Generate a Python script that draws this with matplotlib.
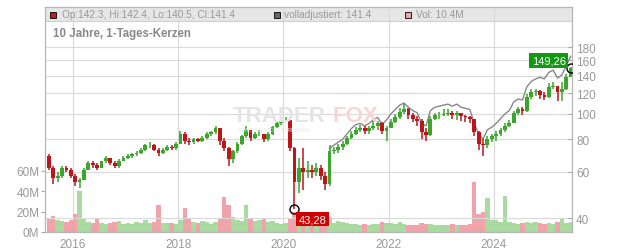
import matplotlib
matplotlib.use("Agg")
import matplotlib.pyplot as plt
from matplotlib.patches import Rectangle
import numpy as np
import pandas as pd

plt.rcParams['font.family'] = ['Liberation Sans', 'DejaVu Sans']

# monthly candles, Jul 2015 .. Jun 2025
first_open = 69
close = [62, 57, 58, 62, 61, 58,
         55, 56, 61, 65, 64, 62, 66, 68, 65, 63, 66, 68,
         69, 70, 71, 73, 76, 76, 73, 71, 73, 75, 74, 77,
         84, 79, 78, 80, 79, 81, 84, 85, 88, 79, 74, 67,
         72, 77, 82, 87, 81, 84, 84, 80, 84, 89, 92, 94,
         95, 74, 55, 62, 60, 61, 60, 62, 58, 54, 72, 73,
         75, 77, 81, 84, 87, 88, 86, 88, 90, 92, 86, 88,
         93, 97, 102, 104, 99, 96, 94, 85, 83, 96, 99, 99,
         100, 101, 99, 101, 98, 97, 96, 85, 77, 76, 80, 82,
         84, 87, 90, 92, 101, 104, 103, 116, 121, 122, 118, 116,
         127, 128, 121, 125, 138, 149.26]
high = [70, 63, 60, 63, 63, 62,
        59, 57, 62, 66, 66, 65, 66, 69, 68, 66, 67, 69,
        70, 71, 72, 74, 77, 78, 77, 74, 74, 76, 76, 78,
        86, 85, 81, 81, 81, 82, 85, 86, 90, 88, 81, 75,
        73, 78, 83, 90, 87, 85, 87, 84, 85, 90, 93, 95,
        97, 97, 75, 68, 74, 66, 64, 65, 64, 60, 76, 75,
        77, 79, 82, 86, 89, 91, 90, 90, 94, 94, 93, 90,
        96, 100, 105, 109, 105, 101, 98, 96, 88, 98, 101, 102,
        104, 104, 103, 103, 101, 99, 98, 96, 86, 80, 82, 84,
        86, 88, 92, 95, 103, 106, 106, 119, 125, 125, 123, 121,
        131, 132, 128, 132, 142, 151]
low = [61, 54, 55, 57, 60, 57,
       53, 52, 56, 61, 62, 61, 62, 65, 64, 62, 62, 66,
       67, 68, 69, 70, 72, 74, 72, 69, 70, 72, 73, 73,
       77, 77, 76, 77, 78, 78, 80, 82, 84, 76, 72, 63,
       65, 71, 76, 81, 79, 80, 82, 78, 79, 83, 88, 91,
       93, 72, 43.28, 50, 51, 57, 57, 58, 56, 51, 53, 70,
       71, 73, 76, 80, 83, 85, 84, 84, 87, 87, 84, 79,
       88, 92, 96, 100, 96, 93, 90, 80, 79, 82, 95, 96,
       98, 98, 96, 95, 94, 93, 92, 82, 73, 69, 74, 78,
       79, 82, 85, 89, 92, 99, 99, 102, 114, 117, 114, 113,
       115, 124, 112, 112, 123, 138]
# volume in millions
volume = [14, 16, 12, 11, 10, 12,
          18, 40, 14, 10, 9, 13, 9, 8, 9, 10, 11, 8,
          9, 8, 10, 9, 12, 9, 10, 27, 9, 9, 9, 8,
          12, 24, 13, 10, 9, 11, 10, 8, 10, 14, 34, 27,
          15, 12, 11, 27, 14, 11, 12, 13, 10, 11, 9, 8,
          9, 14, 20, 18, 12, 11, 9, 9, 10, 8, 15, 9,
          11, 10, 9, 8, 8, 7, 8, 7, 8, 8, 10, 9,
          9, 8, 10, 8, 7, 7, 7, 9, 8, 8, 7, 7,
          7, 7, 8, 7, 7, 7, 8, 49, 18, 20, 33, 12,
          12, 10, 35, 10, 9, 8, 9, 10, 9, 10, 9, 8,
          9, 8, 10, 13, 9, 10]
# fully adjusted close, Nov 2020 .. Jun 2025
adjusted = [74, 76,
            78, 80, 84, 88, 91, 92, 90, 92, 95, 97, 91, 95,
            100, 104, 108, 110, 106, 103, 101, 92, 90, 103, 106, 107,
            108, 109, 107, 109, 106, 105, 104, 92, 84, 80, 87, 89,
            92, 96, 100, 103, 111, 114, 113, 127, 133, 136, 138, 136,
            144, 147, 137, 141, 153, 166]

price_ticks = [40, 60, 80, 100, 120, 140, 160, 180]
vol_ticks = [0, 20, 40, 60]
year_ticks = [2016, 2018, 2020, 2022, 2024]

months = pd.date_range('2015-07-01', periods=len(close), freq='MS')
xs = np.array(months.year + (months.month - 0.5) / 12.0)
close = np.array(close, dtype=float)
opens = np.concatenate([[first_open], close[:-1]])
up = close >= opens
red = '#c0141b'
green = '#3aa62c'
ccol = np.where(up, green, red)
vcol = np.where(up, '#a9dba0', '#f0a3ab')

fig = plt.figure(figsize=(6.32, 2.53), dpi=100)
W, H = 632, 253
ax_v = fig.add_axes([45 / W, 20 / H, 527 / W, 225 / H])
ax = ax_v.twinx()

# header band
ax_v.add_patch(Rectangle((0, (233 - 22) / 225), 1, 14 / 225, transform=ax_v.transAxes,
                         facecolor='#e6e6e6', edgecolor='none', zorder=0))

# volume
ax_v.bar(xs, volume, width=1 / 12.0, color=vcol, linewidth=0, zorder=1)
ax_v.set_ylim(0, 60 * 225 / 61)
ax_v.set_yticks(vol_ticks)
ax_v.set_yticklabels([f'{v}M' for v in vol_ticks])
ax_v.set_xlim(2016 - 28 / 52.6, 2024 + 78 / 52.6)
ax_v.set_xticks(year_ticks)
ax_v.set_xticklabels([str(y) for y in year_ticks])
ax_v.tick_params(axis='x', length=0, pad=4, labelsize=8.5, labelcolor='#999999')
ax_v.tick_params(axis='y', length=3, direction='out', pad=1, labelsize=8.5,
                 labelcolor='#999999', color='#aaaaaa')
for xg in year_ticks:
    ax_v.axvline(xg, color='#d9d9d9', lw=0.8, zorder=0.5)

# price
ax.set_yscale('log')
ax.set_ylim(35.4, 256)
ax.set_xlim(ax_v.get_xlim())
for p in price_ticks:
    ax.axhline(p, color='#d9d9d9', lw=0.8, zorder=0.5)
ax.axhline(40 * np.exp((219 - 22) / 113.7), color='#d0d0d0', lw=0.8, zorder=0.5)
ax.yaxis.set_major_locator(matplotlib.ticker.FixedLocator(price_ticks))
ax.yaxis.set_minor_locator(matplotlib.ticker.NullLocator())
ax.set_yticklabels([str(p) for p in price_ticks])
ax.tick_params(axis='y', length=3, direction='in', pad=3, labelsize=8.5,
               labelcolor='#999999', color='#aaaaaa')

n_adj = len(adjusted)
ax.plot(xs[-n_adj:], adjusted, color='#888888', lw=1.0, zorder=2)
ax.vlines(xs, low, high, colors=ccol, lw=1.1, zorder=3)
ax.bar(xs, close - opens, bottom=opens, width=0.072, color=ccol, linewidth=0, zorder=3)

for a in (ax, ax_v):
    for s in a.spines.values():
        s.set_color('#b5b5b5')
        s.set_linewidth(0.8)

# markers and value labels
i_low = int(np.argmin(low))
ax.plot(xs[i_low], low[i_low], 'o', mfc='none', mec='black', ms=6.5, mew=1, zorder=5)
ax.annotate(f'{low[i_low]:.2f}'.replace('.', ','), (xs[i_low], low[i_low]),
            xytext=(18, -10), textcoords='offset pixels', ha='center', va='center',
            fontsize=8, color='white', zorder=6,
            bbox=dict(boxstyle='square,pad=0.2', fc='#d00000', ec='none'))
ax.plot(xs[-1], close[-1], 'o', mfc='none', mec='black', ms=6.5, mew=1, zorder=5)
ax.annotate(f'{close[-1]:.2f}'.replace('.', ','), (xs[-1], close[-1]),
            xytext=(-22, 8), textcoords='offset pixels', ha='center', va='center',
            fontsize=8, color='white', zorder=6,
            bbox=dict(boxstyle='square,pad=0.2', fc='#139a13', ec='none'))

# watermark
fig.text(233 / W, 1 - 117 / H, 'TRADER', fontsize=16, weight='bold', color='#e4e4e4',
         va='center', ha='left', zorder=0.6)
fig.text(333 / W, 1 - 117 / H, 'FOX', fontsize=16, weight='bold', color='#f7d5d5',
         va='center', ha='left', zorder=0.6)
fig.text(238 / W, 1 - 131 / H, 'REALTIME STOCKSCREENING', fontsize=3.6, color='#e4e4e4',
         va='center', ha='left')

# header legend
def square(x, fc):
    fig.patches.append(Rectangle((x / W, 1 - 19 / H), 6 / W, 6 / H, transform=fig.transFigure,
                                 facecolor=fc, edgecolor='black', lw=0.6, figure=fig))

square(50, '#c8161d')
fig.text(62 / W, 1 - 15.5 / H, 'Op:142.3, Hi:142.4, Lo:140.5, Cl:141.4', fontsize=7.3,
         color='#999999', va='center')
square(274, '#666666')
fig.text(284 / W, 1 - 15.5 / H, 'volladjustiert: 141.4', fontsize=7.3, color='#999999', va='center')
square(405, '#f0a3ab')
fig.text(416 / W, 1 - 15.5 / H, 'Vol: 10.4M', fontsize=7.3, color='#999999', va='center')
fig.text(53 / W, 1 - 33.5 / H, '10 Jahre, 1-Tages-Kerzen', fontsize=8.3, weight='bold',
         color='#888888', va='center')

fig.savefig('out.png', dpi=100)
